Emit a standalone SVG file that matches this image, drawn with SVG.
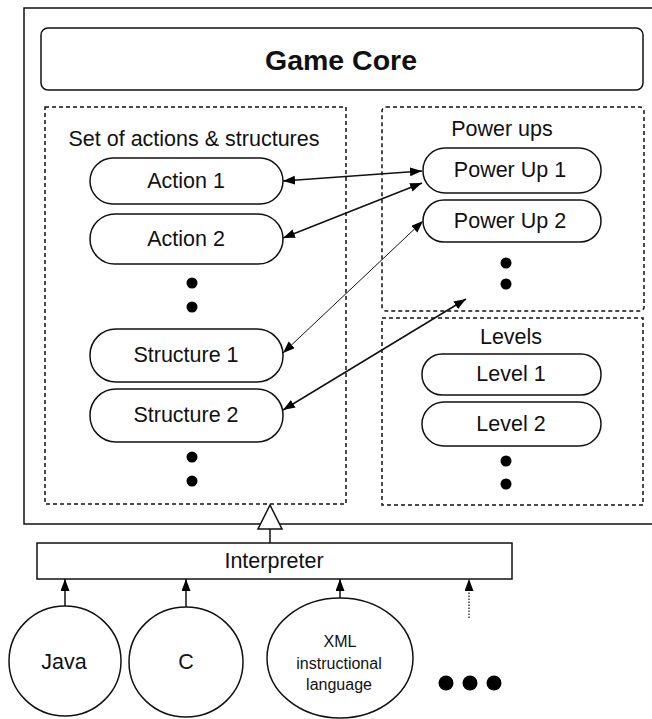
<svg xmlns="http://www.w3.org/2000/svg" width="652" height="719" viewBox="0 0 652 719">
<style>
text{font-family:"Liberation Sans",Arial,sans-serif;fill:#111;text-anchor:middle;dominant-baseline:central}
.lbl{font-size:21.5px}
.pill{fill:#fff;stroke:#111;stroke-width:1.5}
.dash{fill:none;stroke:#111;stroke-width:1.5;stroke-dasharray:4 3}
.dot{fill:#000}
.con{stroke:#111;fill:none}
</style>
<defs>
<marker id="ah" markerUnits="userSpaceOnUse" markerWidth="14" markerHeight="10" refX="12" refY="4.5" orient="auto-start-reverse"><path d="M0,0 L12,4.5 L0,9 z" fill="#000"/></marker>
</defs>
<rect width="652" height="719" fill="#fff"/>
<g id="frame"><rect x="24" y="8" width="632" height="516" fill="none" stroke="#111" stroke-width="1.5"/></g>
<g id="game-core"><rect x="41" y="28" width="602" height="62" rx="7" class="pill"/><text x="341" y="60" style="font-size:28.5px;font-weight:bold">Game Core</text></g>
<g id="actions-group"><rect x="45" y="107" width="301" height="397" class="dash"/><text x="194" y="139" class="lbl">Set of actions &amp; structures</text>
<circle cx="192" cy="283" r="5.5" class="dot"/><circle cx="192" cy="307" r="5.5" class="dot"/>
<circle cx="192" cy="457" r="5.5" class="dot"/><circle cx="192" cy="481" r="5.5" class="dot"/></g>
<g id="action1"><rect x="90" y="158" width="193" height="46" rx="23" class="pill"/><text x="186" y="181" class="lbl">Action 1</text></g>
<g id="action2"><rect x="90" y="214" width="193" height="50" rx="25" class="pill"/><text x="186" y="239" class="lbl">Action 2</text></g>
<g id="structure1"><rect x="90" y="329" width="193" height="53" rx="26" class="pill"/><text x="186" y="355" class="lbl">Structure 1</text></g>
<g id="structure2"><rect x="90" y="389" width="193" height="53" rx="26" class="pill"/><text x="186" y="415" class="lbl">Structure 2</text></g>
<g id="powerups-group"><rect x="382" y="107" width="262" height="204" rx="4" class="dash"/><text x="502" y="129" class="lbl">Power ups</text>
<circle cx="506" cy="263" r="5.5" class="dot"/><circle cx="506" cy="284" r="5.5" class="dot"/></g>
<g id="powerup1"><rect x="423" y="148" width="178" height="45" rx="22" class="pill"/><text x="510" y="170" class="lbl">Power Up 1</text></g>
<g id="powerup2"><rect x="423" y="200" width="178" height="42" rx="21" class="pill"/><text x="510" y="221" class="lbl">Power Up 2</text></g>
<g id="levels-group"><rect x="382" y="318" width="261" height="187" class="dash"/><text x="511" y="337" class="lbl">Levels</text>
<circle cx="506" cy="461" r="5.5" class="dot"/><circle cx="506" cy="484" r="5.5" class="dot"/></g>
<g id="level1"><rect x="422" y="354" width="179" height="41" rx="20" class="pill"/><text x="511" y="374" class="lbl">Level 1</text></g>
<g id="level2"><rect x="422" y="402" width="179" height="44" rx="22" class="pill"/><text x="511" y="424" class="lbl">Level 2</text></g>
<g id="interpreter"><rect x="37" y="543" width="475" height="36" fill="#fff" stroke="#111" stroke-width="1.5"/><text x="274" y="561" class="lbl">Interpreter</text></g>
<g id="java"><ellipse cx="65" cy="661" rx="56" ry="55" class="pill"/><text x="64" y="662" class="lbl">Java</text></g>
<g id="c"><ellipse cx="186" cy="662" rx="57" ry="55" class="pill"/><text x="186" y="662" class="lbl">C</text></g>
<g id="xml"><ellipse cx="340" cy="658" rx="73" ry="60" class="pill"/><text x="340" y="641" style="font-size:16px">XML</text><text x="339" y="663" style="font-size:16px">instructional</text><text x="339" y="684" style="font-size:16px">language</text></g>
<g id="more"><circle cx="446" cy="683" r="7.5" class="dot"/><circle cx="470" cy="683" r="7.5" class="dot"/><circle cx="494" cy="683" r="7.5" class="dot"/></g>
<g id="connectors">
<line x1="283" y1="181" x2="422" y2="171" class="con" stroke-width="1.5" marker-start="url(#ah)" marker-end="url(#ah)"/>
<line x1="283" y1="238" x2="422" y2="183" class="con" stroke-width="1.5" marker-start="url(#ah)" marker-end="url(#ah)"/>
<line x1="283" y1="353" x2="423" y2="221" class="con" stroke-width="1" marker-start="url(#ah)" marker-end="url(#ah)"/>
<line x1="283" y1="410" x2="466" y2="299" class="con" stroke-width="1.5" marker-start="url(#ah)" marker-end="url(#ah)"/>
<line x1="270" y1="543" x2="270" y2="529" class="con" stroke-width="1.5"/>
<polygon points="270,505 258,529 282,529" fill="#fff" stroke="#111" stroke-width="1.5"/>
<line x1="65" y1="606" x2="65" y2="579" class="con" stroke-width="1.5" marker-end="url(#ah)"/>
<line x1="186" y1="607" x2="186" y2="579" class="con" stroke-width="1.5" marker-end="url(#ah)"/>
<line x1="340" y1="598" x2="340" y2="579" class="con" stroke-width="1.5" marker-end="url(#ah)"/>
<line x1="469" y1="618" x2="469" y2="579" class="con" stroke-width="1.2" stroke-dasharray="1.5 1.5" marker-end="url(#ah)"/>
</g>
</svg>
